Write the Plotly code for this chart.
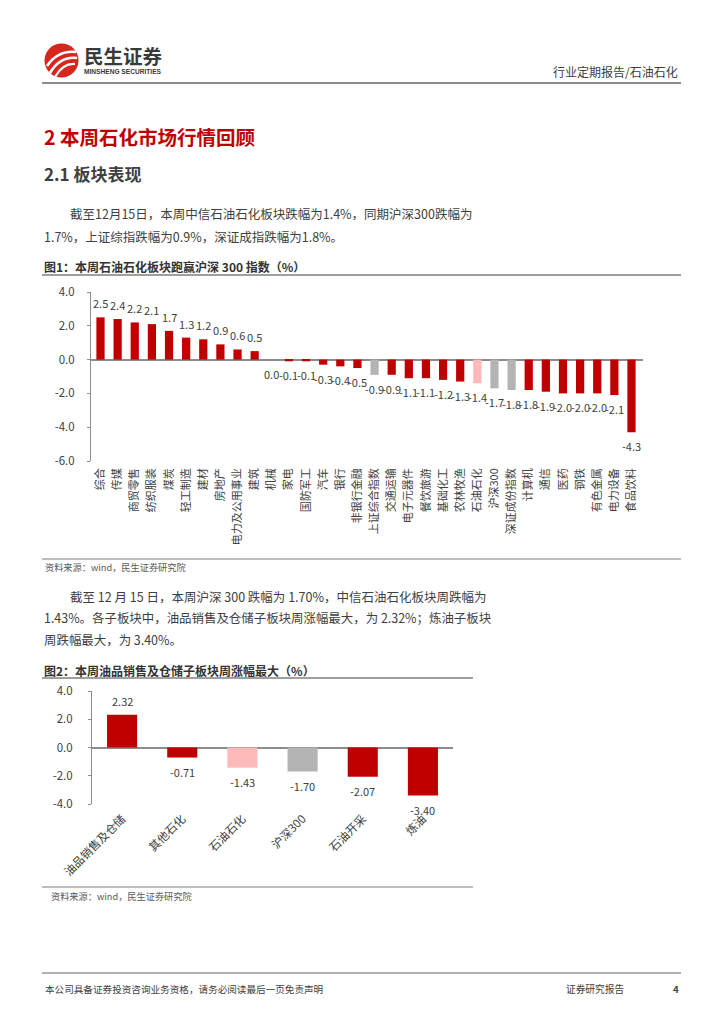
import plotly.graph_objects as go

W, H = 724, 1024

# ---------------- data ----------------
categories1 = ["综合", "传媒", "商贸零售", "纺织服装", "煤炭", "轻工制造", "建材", "房地产",
               "电力及公用事业", "建筑", "机械", "家电", "国防军工", "汽车", "银行", "非银行金融",
               "上证综合指数", "交通运输", "电子元器件", "餐饮旅游", "基础化工", "农林牧渔",
               "石油石化", "沪深300", "深证成份指数", "计算机", "通信", "医药", "钢铁",
               "有色金属", "电力设备", "食品饮料"]
values1 = [2.5, 2.4, 2.2, 2.1, 1.7, 1.3, 1.2, 0.9, 0.6, 0.5, 0.0, -0.1, -0.1, -0.3, -0.4, -0.5,
           -0.9, -0.9, -1.1, -1.1, -1.2, -1.3, -1.4, -1.7, -1.8, -1.8, -1.9, -2.0, -2.0, -2.0,
           -2.1, -4.3]
y_ticks1 = [4.0, 2.0, 0.0, -2.0, -4.0, -6.0]

categories2 = ["油品销售及仓储", "其他石化", "石油石化", "沪深300", "石油开采", "炼油"]
values2 = [2.32, -0.71, -1.43, -1.70, -2.07, -3.40]
y_ticks2 = [4.0, 2.0, 0.0, -2.0, -4.0]

index_names = ["上证综合指数", "沪深300", "深证成份指数"]
highlight_name = "石油石化"

# ---------------- style ----------------
RED = "#C00000"
PINK = "#FFB9B9"
GRAY = "#B4B4B4"
AXIS = "#8C8C8C"
TXT = "#404040"
FONT = "Noto Sans CJK SC"


def color_for(c):
    if c in index_names:
        return GRAY
    if c == highlight_name:
        return PINK
    return RED


def X(px):
    return px / W


def Y(py):
    return 1 - py / H


fig = go.Figure()

fig.add_trace(go.Bar(x=categories1, y=values1, xaxis="x", yaxis="y",
                     marker=dict(color=[color_for(c) for c in categories1], line=dict(width=0)),
                     width=0.48, hoverinfo="skip", showlegend=False))
fig.add_trace(go.Bar(x=categories2, y=values2, xaxis="x2", yaxis="y2",
                     marker=dict(color=[color_for(c) for c in categories2], line=dict(width=0)),
                     width=0.5, hoverinfo="skip", showlegend=False))

annotations = []
for c, v in zip(categories1, values1):
    annotations.append(dict(x=c, y=v, xref="x", yref="y", text=f"{v:.1f}", showarrow=False,
                            yshift=14 if v > 0 else -14, yanchor="middle",
                            font=dict(family=FONT, size=11, color=TXT)))
for c, v in zip(categories2, values2):
    annotations.append(dict(x=c, y=v, xref="x2", yref="y2", text=f"{v:.2f}", showarrow=False,
                            yshift=14 if v > 0 else -14, yanchor="middle",
                            font=dict(family=FONT, size=11, color=TXT)))


def txt(x, y, s, size, color=TXT, bold=False, xanchor="left"):
    if bold:
        s = f"<b>{s}</b>"
    annotations.append(dict(x=X(x), y=Y(y), xref="paper", yref="paper", text=s, showarrow=False,
                            xanchor=xanchor, yanchor="middle",
                            font=dict(family=FONT, size=size, color=color)))


# header
txt(82, 55, "民生证券", 19.5, "#3A3A3A", bold=True)
annotations.append(dict(x=X(82), y=Y(71), xref="paper", yref="paper",
                        text="<b>MINSHENG SECURITIES</b>", showarrow=False, xanchor="left",
                        yanchor="middle", font=dict(family="Liberation Sans", size=6.6, color="#3A3A3A")))
txt(680, 71.5, "行业定期报告/石油石化", 12, TXT, xanchor="right")

# headings and paragraphs
txt(42, 136, "2 本周石化市场行情回顾", 19.5, RED, bold=True)
txt(42, 173, "2.1 板块表现", 17, "#404040", bold=True)
txt(68, 213, "截至12月15日，本周中信石油石化板块跌幅为1.4%，同期沪深300跌幅为", 12.5, TXT)
txt(42, 236, "1.7%，上证综指跌幅为0.9%，深证成指跌幅为1.8%。", 12.5, TXT)
txt(42, 266, "图1：本周石油石化板块跑赢沪深 300 指数（%）", 12, "#333333", bold=True)
txt(43, 567, "资料来源：wind，民生证券研究院", 9.2, "#595959")
txt(68, 596, "截至 12 月 15 日，本周沪深 300 跌幅为 1.70%，中信石油石化板块周跌幅为", 12.5, TXT)
txt(42, 618, "1.43%。各子板块中，油品销售及仓储子板块周涨幅最大，为 2.32%；炼油子板块", 12.45, TXT)
txt(42, 640, "周跌幅最大，为 3.40%。", 12.45, TXT)
txt(42, 670, "图2：本周油品销售及仓储子板块周涨幅最大（%）", 12, "#333333", bold=True)
txt(49, 896, "资料来源：wind，民生证券研究院", 9.2, "#595959")

# footer
txt(43, 989, "本公司具备证券投资咨询业务资格，请务必阅读最后一页免责声明", 9.6, "#404040")
txt(564, 989, "证券研究报告", 9.7, "#404040")
txt(681, 989, "4", 9.7, "#404040", bold=True, xanchor="right")

shapes = []


def hline(y, x0, x1, color="#808080", width=1.5):
    shapes.append(dict(type="line", xref="paper", yref="paper", x0=X(x0), x1=X(x1), y0=Y(y), y1=Y(y),
                       line=dict(color=color, width=width)))


hline(83, 42, 681, "#666666", 1.5)
hline(275, 42, 681, "#7F7F7F", 1.5)
hline(559, 42, 681, "#7F7F7F", 1.2)
hline(678, 42, 473, "#7F7F7F", 1.5)
hline(887, 42, 473, "#7F7F7F", 1.2)
hline(973, 42, 681, "#666666", 1.2)

# logo: red circle with white swooshes
cx, cy, r = 61.5, 60.5, 17
shapes.append(dict(type="circle", xref="paper", yref="paper",
                   x0=X(cx - r), x1=X(cx + r), y0=Y(cy + r), y1=Y(cy - r),
                   fillcolor="#D7261E", line=dict(width=0)))


def qpath(p0, p1, p2):
    return (f"M {X(p0[0])},{Y(p0[1])} Q {X(p1[0])},{Y(p1[1])} {X(p2[0])},{Y(p2[1])}")


for (a, b, c, w) in [((47, 66), (58, 50), (76, 52), 2.6),
                     ((50, 73), (60, 56), (77, 58), 2.6),
                     ((55, 77), (63, 63), (75, 64), 2.2)]:
    shapes.append(dict(type="path", xref="paper", yref="paper", path=qpath(a, b, c),
                       line=dict(color="white", width=w)))

fig.update_layout(
    template="none",
    width=W, height=H,
    margin=dict(l=0, r=0, t=0, b=0, pad=0, autoexpand=False),
    paper_bgcolor="white", plot_bgcolor="white",
    font=dict(family=FONT, color=TXT),
    showlegend=False,
    xaxis=dict(domain=[X(91), X(643)], anchor="y", type="category", tickangle=-90,
               tickfont=dict(family=FONT, size=11, color=TXT), showline=False, ticks="",
               ticklabelstandoff=4, showgrid=False, zeroline=False, fixedrange=True,
               automargin=False),
    yaxis=dict(domain=[Y(461), Y(292)], anchor="x", range=[-6, 4], tickvals=y_ticks1,
               ticktext=[f"{v:.1f}" for v in y_ticks1],
               tickfont=dict(family=FONT, size=11.5, color=TXT), showline=True, linecolor=AXIS,
               linewidth=1, ticks="outside", ticklen=3, tickcolor=AXIS, ticklabelstandoff=10,
               showgrid=False, zeroline=True, zerolinecolor=AXIS, zerolinewidth=1.5,
               fixedrange=True, automargin=False),
    xaxis2=dict(domain=[X(92), X(453)], anchor="y2", type="category", tickangle=-45,
                tickfont=dict(family=FONT, size=11.5, color=TXT), showline=False, ticks="",
                ticklabelstandoff=5, showgrid=False, zeroline=False, fixedrange=True,
                automargin=False),
    yaxis2=dict(domain=[Y(804), Y(691)], anchor="x2", range=[-4, 4], tickvals=y_ticks2,
                ticktext=[f"{v:.1f}" for v in y_ticks2],
                tickfont=dict(family=FONT, size=11.5, color=TXT), showline=True, linecolor=AXIS,
                linewidth=1, ticks="outside", ticklen=3, tickcolor=AXIS, ticklabelstandoff=13,
                showgrid=False, zeroline=True, zerolinecolor=AXIS, zerolinewidth=1.5,
                fixedrange=True, automargin=False),
    annotations=annotations,
    shapes=shapes,
)

fig.write_html("out.html", config={"displayModeBar": False},
               post_script="document.body.style.margin='0px';document.body.style.overflow='hidden';")
